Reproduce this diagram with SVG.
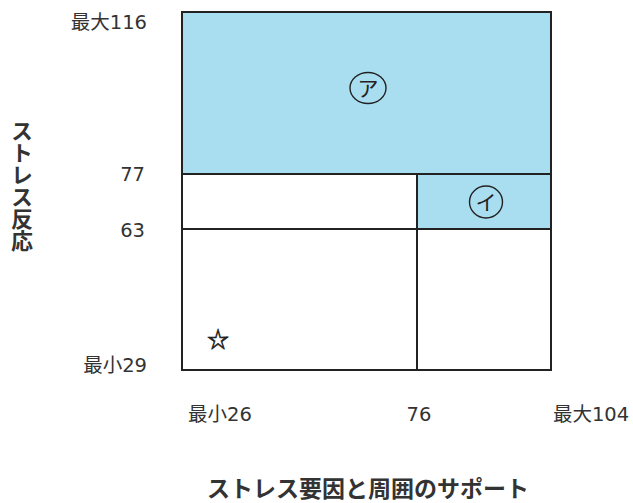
<svg xmlns="http://www.w3.org/2000/svg" width="633" height="503" viewBox="0 0 633 503">
<style>
.t{font-family:"DejaVu Sans","Noto Sans CJK JP",sans-serif;font-size:19.5px;fill:#333}
.b{font-family:"Noto Sans CJK JP",sans-serif;font-size:23px;font-weight:bold;fill:#333}
.k{font-family:"Noto Sans CJK JP",sans-serif;font-size:21px;fill:#222}
.ln{stroke:#222;stroke-width:2;fill:none}
.bl{fill:#a9def0}
.c{fill:none;stroke:#222;stroke-width:1.4}
</style>
<rect width="633" height="503" fill="#fff"/>
<g id="region-a">
<rect class="bl" x="182" y="12" width="369" height="162"/>
<ellipse class="c" cx="368" cy="88" rx="18" ry="15.5"/>
<text class="k" x="368" y="95.5" text-anchor="middle">ア</text>
</g>
<g id="region-i">
<rect class="bl" x="417" y="174" width="134" height="55"/>
<ellipse class="c" cx="486" cy="202" rx="16.5" ry="16"/>
<text class="k" x="486" y="209.5" text-anchor="middle">イ</text>
</g>
<g id="star">
<text class="k" x="218" y="347" text-anchor="middle" style="font-size:22px;stroke:#222;stroke-width:0.6">☆</text>
</g>
<g id="grid">
<rect class="ln" x="182" y="12" width="369" height="358"/>
<line class="ln" x1="182" y1="174" x2="551" y2="174"/>
<line class="ln" x1="182" y1="229" x2="551" y2="229"/>
<line class="ln" x1="417" y1="174" x2="417" y2="370"/>
</g>
<g id="y-labels">
<text class="t" x="147" y="29" text-anchor="end">最大116</text>
<text class="t" x="145" y="181" text-anchor="end">77</text>
<text class="t" x="145" y="237" text-anchor="end">63</text>
<text class="t" x="147" y="372" text-anchor="end">最小29</text>
<text class="b" x="22" y="120" style="writing-mode:vertical-rl;font-size:22px">ストレス反応</text>
</g>
<g id="x-labels">
<text class="t" x="220" y="421" text-anchor="middle">最小26</text>
<text class="t" x="419" y="421" text-anchor="middle">76</text>
<text class="t" x="591" y="421" text-anchor="middle">最大104</text>
<text class="b" x="368" y="497" text-anchor="middle">ストレス要因と周囲のサポート</text>
</g>
</svg>
